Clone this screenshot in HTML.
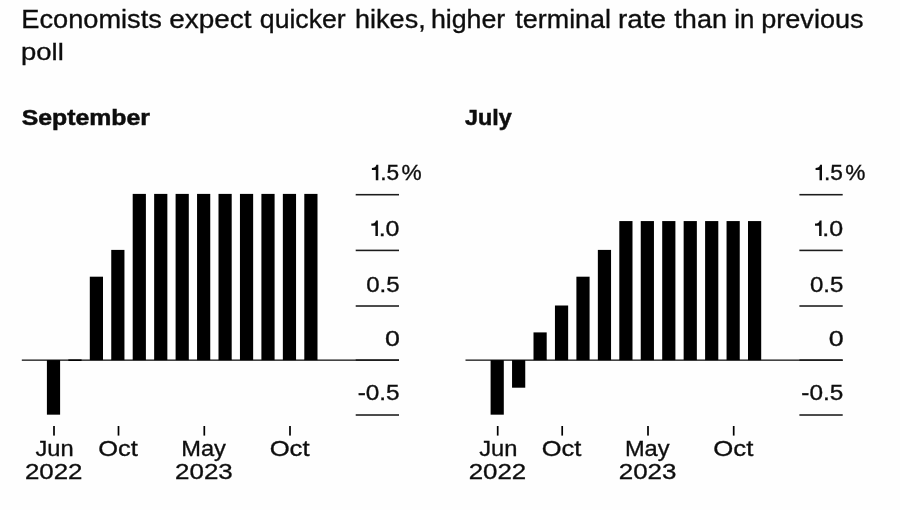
<!DOCTYPE html>
<html><head><meta charset="utf-8"><title>Chart</title>
<style>
html,body{margin:0;padding:0;background:#fefefe;}
body{width:900px;height:510px;overflow:hidden;font-family:"Liberation Sans",sans-serif;}
svg{display:block}
text{font-family:"Liberation Sans",sans-serif;font-kerning:none;}
</style></head><body>
<svg width="900" height="510" viewBox="0 0 900 510" ><defs><filter id="b" x="0" y="0" width="900" height="510" filterUnits="userSpaceOnUse"><feGaussianBlur stdDeviation="0.5"/></filter></defs>
<rect x="0" y="0" width="900" height="510" fill="#fefefe"/>
<g filter="url(#b)">
<text transform="translate(21.32 28.10) scale(1.0666 1)" font-size="25.51" fill="#111" stroke="#111" stroke-width="0.35">Economists</text>
<text transform="translate(169.16 28.10) scale(1.0949 1)" font-size="25.51" fill="#111" stroke="#111" stroke-width="0.35">expect</text>
<text transform="translate(259.83 28.10) scale(1.0441 1)" font-size="25.51" fill="#111" stroke="#111" stroke-width="0.35">quicker</text>
<text transform="translate(355.08 28.10) scale(1.0595 1)" font-size="25.51" fill="#111" stroke="#111" stroke-width="0.35">hikes,</text>
<text transform="translate(430.89 28.10) scale(1.0492 1)" font-size="25.51" fill="#111" stroke="#111" stroke-width="0.35">higher</text>
<text transform="translate(515.34 28.10) scale(1.0549 1)" font-size="25.51" fill="#111" stroke="#111" stroke-width="0.35">terminal</text>
<text transform="translate(617.90 28.10) scale(1.0917 1)" font-size="25.51" fill="#111" stroke="#111" stroke-width="0.35">rate</text>
<text transform="translate(674.34 28.10) scale(1.0608 1)" font-size="25.51" fill="#111" stroke="#111" stroke-width="0.35">than</text>
<text transform="translate(734.22 28.10) scale(1.0127 1)" font-size="25.51" fill="#111" stroke="#111" stroke-width="0.35">in</text>
<text transform="translate(761.20 28.10) scale(1.0623 1)" font-size="25.51" fill="#111" stroke="#111" stroke-width="0.35">previous</text>
<text transform="translate(21.08 59.50) scale(1.1070 1)" font-size="24.78" fill="#111" stroke="#111" stroke-width="0.35">poll</text>
<text transform="translate(21.74 124.90) scale(1.0869 1)" font-size="22.82" font-weight="700" fill="#111" stroke="#111" stroke-width="0.55">September</text>
<rect x="355.70" y="193.92" width="43.30" height="1.55" fill="#1a1a1a"/>
<path d="M378.30 180.30 V164.70 H376.40 C376.00 166.90 374.10 167.80 371.90 167.90 V170.00 H375.80 V180.30 Z" fill="#111"/>
<text transform="translate(380.18 180.30) scale(1.0420 1)" font-size="21.78" fill="#111" stroke="#111" stroke-width="0.35">.5</text>
<text transform="translate(401.44 180.30) scale(1.0415 1)" font-size="21.78" fill="#111" stroke="#111" stroke-width="0.35">%</text>
<rect x="355.70" y="249.62" width="43.30" height="1.55" fill="#1a1a1a"/>
<path d="M377.90 236.00 V220.40 H376.00 C375.60 222.60 373.70 223.50 371.30 223.60 V225.70 H375.40 V236.00 Z" fill="#111"/>
<text transform="translate(378.67 236.00) scale(1.1487 1)" font-size="21.78" fill="#111" stroke="#111" stroke-width="0.35">.0</text>
<rect x="355.70" y="305.23" width="43.30" height="1.55" fill="#1a1a1a"/>
<text transform="translate(366.21 291.60) scale(1.1050 1)" font-size="21.78" fill="#111" stroke="#111" stroke-width="0.35">0.5</text>
<text transform="translate(385.00 345.75) scale(1.2296 1)" font-size="21.78" fill="#111" stroke="#111" stroke-width="0.35">0</text>
<rect x="355.70" y="414.23" width="43.30" height="1.55" fill="#1a1a1a"/>
<text transform="translate(357.67 400.20) scale(1.1195 1)" font-size="21.78" fill="#111" stroke="#111" stroke-width="0.35">-0.5</text>
<rect x="21.80" y="359.45" width="377.20" height="1.40" fill="#262626"/>
<rect x="355.70" y="359.38" width="43.30" height="1.55" fill="#1a1a1a"/>
<rect x="46.90" y="360.15" width="13.20" height="54.52" fill="#000"/>
<rect x="68.35" y="359.35" width="13.20" height="1.60" fill="#000"/>
<rect x="89.80" y="276.70" width="13.20" height="83.45" fill="#000"/>
<rect x="111.25" y="249.90" width="13.20" height="110.25" fill="#000"/>
<rect x="132.70" y="193.90" width="13.20" height="166.25" fill="#000"/>
<rect x="154.15" y="193.90" width="13.20" height="166.25" fill="#000"/>
<rect x="175.60" y="193.90" width="13.20" height="166.25" fill="#000"/>
<rect x="197.05" y="193.90" width="13.20" height="166.25" fill="#000"/>
<rect x="218.50" y="193.90" width="13.20" height="166.25" fill="#000"/>
<rect x="239.95" y="193.90" width="13.20" height="166.25" fill="#000"/>
<rect x="261.40" y="193.90" width="13.20" height="166.25" fill="#000"/>
<rect x="282.85" y="193.90" width="13.20" height="166.25" fill="#000"/>
<rect x="304.30" y="193.90" width="13.20" height="166.25" fill="#000"/>
<rect x="53.15" y="426.00" width="1.70" height="9.60" fill="#000"/>
<rect x="117.65" y="426.00" width="1.70" height="9.60" fill="#000"/>
<rect x="203.45" y="426.00" width="1.70" height="9.60" fill="#000"/>
<rect x="289.15" y="426.00" width="1.70" height="9.60" fill="#000"/>
<text transform="translate(35.48 456.40) scale(1.0485 1)" font-size="22.60" fill="#111" stroke="#111" stroke-width="0.35">Jun</text>
<text transform="translate(24.95 478.85) scale(1.1549 1)" font-size="22.42" fill="#111" stroke="#111" stroke-width="0.35">2022</text>
<text transform="translate(98.14 456.40) scale(1.1260 1)" font-size="22.60" fill="#111" stroke="#111" stroke-width="0.35">Oct</text>
<text transform="translate(181.21 456.40) scale(1.0466 1)" font-size="22.60" fill="#111" stroke="#111" stroke-width="0.35">May</text>
<text transform="translate(175.04 478.85) scale(1.1577 1)" font-size="22.42" fill="#111" stroke="#111" stroke-width="0.35">2023</text>
<text transform="translate(269.63 456.40) scale(1.1378 1)" font-size="22.60" fill="#111" stroke="#111" stroke-width="0.35">Oct</text>
<text transform="translate(465.10 124.90) scale(1.0201 1)" font-size="22.82" font-weight="700" fill="#111" stroke="#111" stroke-width="0.55">July</text>
<rect x="799.40" y="193.92" width="43.30" height="1.55" fill="#1a1a1a"/>
<path d="M822.00 180.30 V164.70 H820.10 C819.70 166.90 817.80 167.80 815.60 167.90 V170.00 H819.50 V180.30 Z" fill="#111"/>
<text transform="translate(823.88 180.30) scale(1.0420 1)" font-size="21.78" fill="#111" stroke="#111" stroke-width="0.35">.5</text>
<text transform="translate(845.14 180.30) scale(1.0415 1)" font-size="21.78" fill="#111" stroke="#111" stroke-width="0.35">%</text>
<rect x="799.40" y="249.62" width="43.30" height="1.55" fill="#1a1a1a"/>
<path d="M821.60 236.00 V220.40 H819.70 C819.30 222.60 817.40 223.50 815.00 223.60 V225.70 H819.10 V236.00 Z" fill="#111"/>
<text transform="translate(822.37 236.00) scale(1.1487 1)" font-size="21.78" fill="#111" stroke="#111" stroke-width="0.35">.0</text>
<rect x="799.40" y="305.23" width="43.30" height="1.55" fill="#1a1a1a"/>
<text transform="translate(809.91 291.60) scale(1.1050 1)" font-size="21.78" fill="#111" stroke="#111" stroke-width="0.35">0.5</text>
<text transform="translate(828.70 345.75) scale(1.2296 1)" font-size="21.78" fill="#111" stroke="#111" stroke-width="0.35">0</text>
<rect x="799.40" y="414.23" width="43.30" height="1.55" fill="#1a1a1a"/>
<text transform="translate(801.37 400.20) scale(1.1195 1)" font-size="21.78" fill="#111" stroke="#111" stroke-width="0.35">-0.5</text>
<rect x="465.50" y="359.45" width="377.20" height="1.40" fill="#262626"/>
<rect x="799.40" y="359.38" width="43.30" height="1.55" fill="#1a1a1a"/>
<rect x="490.60" y="360.15" width="13.20" height="54.52" fill="#000"/>
<rect x="512.05" y="360.15" width="13.20" height="27.55" fill="#000"/>
<rect x="533.50" y="332.40" width="13.20" height="27.75" fill="#000"/>
<rect x="554.95" y="305.50" width="13.20" height="54.65" fill="#000"/>
<rect x="576.40" y="276.70" width="13.20" height="83.45" fill="#000"/>
<rect x="597.85" y="249.90" width="13.20" height="110.25" fill="#000"/>
<rect x="619.30" y="221.07" width="13.20" height="139.08" fill="#000"/>
<rect x="640.75" y="221.07" width="13.20" height="139.08" fill="#000"/>
<rect x="662.20" y="221.07" width="13.20" height="139.08" fill="#000"/>
<rect x="683.65" y="221.07" width="13.20" height="139.08" fill="#000"/>
<rect x="705.10" y="221.07" width="13.20" height="139.08" fill="#000"/>
<rect x="726.55" y="221.07" width="13.20" height="139.08" fill="#000"/>
<rect x="748.00" y="221.07" width="13.20" height="139.08" fill="#000"/>
<rect x="496.85" y="426.00" width="1.70" height="9.60" fill="#000"/>
<rect x="561.35" y="426.00" width="1.70" height="9.60" fill="#000"/>
<rect x="647.15" y="426.00" width="1.70" height="9.60" fill="#000"/>
<rect x="732.85" y="426.00" width="1.70" height="9.60" fill="#000"/>
<text transform="translate(479.18 456.40) scale(1.0485 1)" font-size="22.60" fill="#111" stroke="#111" stroke-width="0.35">Jun</text>
<text transform="translate(468.65 478.85) scale(1.1549 1)" font-size="22.42" fill="#111" stroke="#111" stroke-width="0.35">2022</text>
<text transform="translate(541.84 456.40) scale(1.1260 1)" font-size="22.60" fill="#111" stroke="#111" stroke-width="0.35">Oct</text>
<text transform="translate(624.91 456.40) scale(1.0466 1)" font-size="22.60" fill="#111" stroke="#111" stroke-width="0.35">May</text>
<text transform="translate(618.74 478.85) scale(1.1577 1)" font-size="22.42" fill="#111" stroke="#111" stroke-width="0.35">2023</text>
<text transform="translate(713.33 456.40) scale(1.1378 1)" font-size="22.60" fill="#111" stroke="#111" stroke-width="0.35">Oct</text>
</g>
</svg>
</body></html>
